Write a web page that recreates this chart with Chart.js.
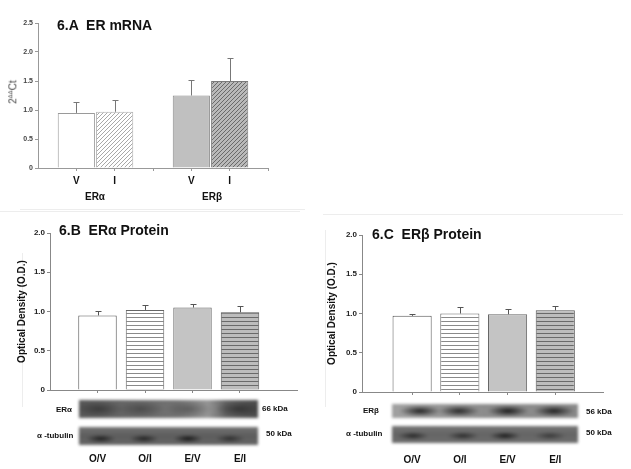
<!DOCTYPE html>
<html>
<head>
<meta charset="utf-8">
<script src="https://cdn.jsdelivr.net/npm/chart.js@4/dist/chart.umd.min.js"></script>
<style>
  body { margin: 0; background: #fff; width: 631px; height: 469px; overflow: hidden; position: relative;
         font-family: 'Liberation Sans', Arial, sans-serif; }
  canvas { position: absolute; }
  .t { position: absolute; white-space: pre; font-weight: bold; color: #111; line-height: 1; }
  .title { font-size: 14px; }
  .lbl { font-size: 8px; transform: translateY(-50%); }
  .blot { position: absolute; filter: blur(1.5px); }
  .frame { position: absolute; background: #ededed; }
</style>
</head>
<body>
<div class="frame" style="left:20px;top:209px;width:285px;height:1px"></div>
<div class="frame" style="left:0px;top:211px;width:300px;height:1px"></div>
<div class="frame" style="left:22px;top:253px;width:1px;height:154px"></div>
<div class="frame" style="left:323px;top:214px;width:300px;height:1px"></div>
<div class="frame" style="left:325px;top:230px;width:1px;height:177px"></div>

<canvas id="chartA" width="320" height="210" style="left:0;top:0"></canvas>
<canvas id="chartB" width="320" height="259" style="left:0;top:210px"></canvas>
<canvas id="chartC" width="321" height="259" style="left:310px;top:210px"></canvas>

<div class="t title" style="left:57px;top:17.6px">6.A  ER mRNA</div>
<div class="t title" style="left:59px;top:223.4px">6.B  ERα Protein</div>
<div class="t title" style="left:372px;top:227.4px">6.C  ERβ Protein</div>
<div class="t" style="left:13px;top:92px;font-size:10px;font-weight:normal;color:#444;transform:translate(-50%,-50%) rotate(-90deg)">2<sup style="font-size:6px">ΔΔ</sup>Ct</div>

<div class="t lbl" style="left:56px;top:410px">ERα</div>
<div class="t lbl" style="left:37px;top:436px">α -tubulin</div>
<div class="t lbl" style="left:262px;top:409px">66 kDa</div>
<div class="t lbl" style="left:266px;top:434px">50 kDa</div>
<div class="t lbl" style="left:363px;top:411px">ERβ</div>
<div class="t lbl" style="left:346px;top:434px">α -tubulin</div>
<div class="t lbl" style="left:586px;top:412px">56 kDa</div>
<div class="t lbl" style="left:586px;top:433px">50 kDa</div>

<script>
const mrnaLabels = ['V', 'I', 'V', 'I'];
const mrnaGroups = ['ERα', 'ERβ'];
const mrnaMean = [0.95, 0.97, 1.25, 1.50];
const mrnaErr = [0.19, 0.21, 0.26, 0.40];
const mrnaTicks = [0, 0.5, 1.0, 1.5, 2.0, 2.5];

const proteinLabels = ['O/V', 'O/I', 'E/V', 'E/I'];
const eraMean = [0.95, 1.02, 1.05, 0.99];
const eraErr = [0.06, 0.065, 0.05, 0.08];
const erbMean = [0.97, 1.00, 0.99, 1.04];
const erbErr = [0.02, 0.08, 0.065, 0.06];
const proteinTicks = [0, 0.5, 1.0, 1.5, 2.0];

Chart.defaults.font.family = "'Liberation Sans', Arial, sans-serif";

function hatch(bg, line, kind, gap) {
  const c = document.createElement('canvas');
  c.width = c.height = gap;
  const g = c.getContext('2d');
  g.fillStyle = bg;
  g.fillRect(0, 0, gap, gap);
  g.strokeStyle = line;
  g.lineWidth = 1;
  g.beginPath();
  if (kind === 'diag') {
    g.moveTo(0, gap); g.lineTo(gap, 0);
    g.moveTo(-1, 1); g.lineTo(1, -1);
    g.moveTo(gap - 1, gap + 1); g.lineTo(gap + 1, gap - 1);
  } else {
    g.moveTo(0, gap - 0.5); g.lineTo(gap, gap - 0.5);
  }
  g.stroke();
  return g.createPattern(c, 'repeat');
}

// vertical error bars (upper side only) drawn on the chart's own y scale
const errorBars = {
  id: 'errorBars',
  afterDatasetsDraw(chart, args, o) {
    const ctx = chart.ctx;
    const y = chart.scales.y;
    chart.getDatasetMeta(0).data.forEach((bar, i) => {
      const top = Math.round(y.getPixelForValue(o.means[i] + o.errs[i])) + 0.5;
      const x = Math.round(bar.x) + 0.5;
      ctx.save();
      ctx.strokeStyle = o.color;
      ctx.lineWidth = 1;
      ctx.beginPath();
      ctx.moveTo(x, bar.y);
      ctx.lineTo(x, top);
      ctx.moveTo(x - o.cap, top);
      ctx.lineTo(x + o.cap, top);
      ctx.stroke();
      ctx.restore();
    });
  }
};

function makeChart(cfg) {
  const xs = cfg.xs;
  new Chart(document.getElementById(cfg.id), {
    type: 'bar',
    data: {
      datasets: [{
        data: xs.map((x, i) => ({ x: x, y: cfg.means[i] })),
        backgroundColor: cfg.fills,
        borderColor: cfg.borders,
        borderWidth: 1,
        barPercentage: cfg.barPct,
        categoryPercentage: 1
      }]
    },
    options: {
      responsive: false,
      animation: false,
      layout: { padding: cfg.padding },
      plugins: {
        legend: { display: false },
        tooltip: { enabled: false },
        errorBars: { means: cfg.means, errs: cfg.errs, color: cfg.errColor, cap: 3 }
      },
      scales: {
        x: {
          type: 'linear', min: cfg.xMin, max: cfg.xMax, offset: false,
          afterBuildTicks: s => { s.ticks = cfg.tickXs.map(v => ({ value: v })); },
          afterFit: s => { s.height = cfg.xHeight; },
          ticks: {
            autoSkip: false, maxRotation: 0, padding: cfg.xPad, color: '#111',
            font: { size: cfg.xFont, weight: 'bold' },
            callback: v => { const i = xs.indexOf(v); return i < 0 ? '' : cfg.labels[i]; }
          },
          grid: { drawOnChartArea: false, offset: false, tickLength: 3, color: cfg.axis },
          border: { color: cfg.axis }
        },
        y: {
          min: 0, max: cfg.yTicks[cfg.yTicks.length - 1],
          afterBuildTicks: s => { s.ticks = cfg.yTicks.map(v => ({ value: v })); },
          afterFit: s => { s.width = cfg.yWidth; },
          ticks: {
            padding: 2, color: cfg.tickColor,
            font: { size: cfg.yFont, weight: 'bold' },
            callback: v => v === 0 ? '0' : v.toFixed(1)
          },
          grid: { drawOnChartArea: false, tickLength: 3, color: cfg.axis },
          border: { color: cfg.axis },
          title: cfg.yTitle || { display: false }
        }
      }
    },
    plugins: [errorBars]
  });
}

const odTitle = {
  display: true, text: 'Optical Density (O.D.)', color: '#111',
  font: { size: 10, weight: 'bold' }, padding: { top: 16, bottom: 0 }
};

// 6.A: two groups of two bars, a blank slot between groups
const mrnaXs = mrnaLabels.map((_, i) => i + 1 + Math.floor(i / 2));
makeChart({
  id: 'chartA', labels: mrnaLabels, means: mrnaMean, errs: mrnaErr, xs: mrnaXs,
  tickXs: [1, 2, 3, 4, 5, 6], xMin: 0, xMax: 6, yTicks: mrnaTicks,
  fills: ['#ffffff', hatch('#ffffff', '#a8a8a8', 'diag', 4), '#c0c0c0', hatch('#b9b9b9', '#6a6a6a', 'diag', 4)],
  borders: ['#9a9a9a', '#b0b0b0', '#8a8a8a', '#7a7a7a'],
  barPct: 0.97, padding: { left: 0, top: 23, right: 52, bottom: 0 },
  yWidth: 38, xHeight: 42, xPad: 4, xFont: 10, yFont: 7, tickColor: '#444',
  axis: '#999', errColor: '#777'
});

const protXs = proteinLabels.map((_, i) => i + 1);
makeChart({
  id: 'chartB', labels: proteinLabels, means: eraMean, errs: eraErr, xs: protXs,
  tickXs: protXs, xMin: 0, xMax: 5.2, yTicks: proteinTicks,
  fills: ['#ffffff', hatch('#ffffff', '#8a8a8a', 'h', 4), '#c4c4c4', hatch('#bdbdbd', '#6a6a6a', 'h', 4)],
  borders: ['#555', '#666', '#666', '#555'],
  barPct: 0.81, padding: { left: 0, top: 23, right: 23, bottom: 0 },
  yWidth: 50, xHeight: 79, xPad: 60, xFont: 10, yFont: 8, tickColor: '#222',
  axis: '#888', errColor: '#555', yTitle: odTitle
});

makeChart({
  id: 'chartC', labels: proteinLabels, means: erbMean, errs: erbErr, xs: protXs,
  tickXs: protXs, xMin: -0.05, xMax: 5, yTicks: proteinTicks,
  fills: ['#ffffff', hatch('#ffffff', '#8a8a8a', 'h', 4), '#c4c4c4', hatch('#bdbdbd', '#6a6a6a', 'h', 4)],
  borders: ['#555', '#666', '#666', '#555'],
  barPct: 0.82, padding: { left: 0, top: 25, right: 28, bottom: 0 },
  yWidth: 52, xHeight: 77, xPad: 59, xFont: 10, yFont: 8, tickColor: '#222',
  axis: '#888', errColor: '#555', yTitle: odTitle
});

// group captions under 6.A
[[95, mrnaGroups[0]], [212, mrnaGroups[1]]].forEach(([x, txt]) => {
  const d = document.createElement('div');
  d.className = 't';
  d.style.cssText = `left:${x}px;top:197px;font-size:10px;transform:translate(-50%,-50%)`;
  d.textContent = txt;
  document.body.appendChild(d);
});

// western blot strips (picture, not data)
function blot(left, top, w, h, base, lanes, ly, rx, ry) {
  const d = document.createElement('div');
  d.className = 'blot';
  d.style.cssText = `left:${left}px;top:${top}px;width:${w}px;height:${h}px;`;
  const g = lanes.map(([cx, a]) =>
    `radial-gradient(${rx}px ${ry}px at ${cx}px ${ly}%, rgba(15,15,15,${a}), rgba(15,15,15,0))`);
  d.style.background = g.concat([base]).join(',');
  document.body.appendChild(d);
}
blot(79, 400, 179, 18, 'linear-gradient(to right, #585858, #686868 30%, #727272 55%, #959595 72%, #646464 82%, #4c4c4c)',
  [[20, 0.45], [62, 0.35], [110, 0.3], [160, 0.5]], 50, 24, 8);
blot(79, 427, 179, 18, 'linear-gradient(#727272, #5c5c5c 50%, #666666)',
  [[22, 0.85], [65, 0.8], [109, 0.95], [151, 0.65]], 65, 15, 4);
blot(392, 404, 186, 14, 'linear-gradient(to right, #a0a0a0, #8c8c8c 50%, #888888)',
  [[28, 0.9], [67, 0.85], [116, 0.95], [162, 0.9]], 50, 21, 5.5);
blot(392, 426, 186, 17, 'linear-gradient(#747474, #646464 50%, #6e6e6e)',
  [[21, 0.75], [71, 0.7], [113, 0.9], [158, 0.55]], 58, 16, 4);
</script>
</body>
</html>
